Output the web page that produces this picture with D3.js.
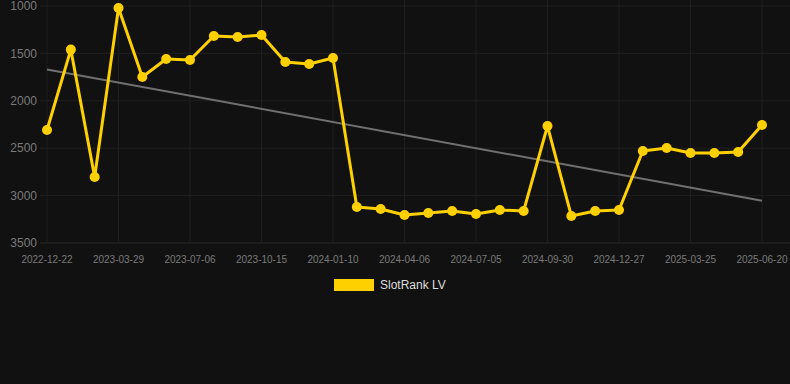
<!DOCTYPE html>
<html>
<head>
<meta charset="utf-8">
<script src="https://cdn.jsdelivr.net/npm/d3@7"></script>
<style>
  html, body { margin: 0; padding: 0; background: #111111; }
  #chart { width: 790px; height: 384px; }
  text { font-family: "Liberation Sans", Arial, sans-serif; }
</style>
</head>
<body>
<div id="chart"></div>
<script>
//dates for each point, only every 3rd one is labelled on the axis
const dates = [
  "2022-12-22", "2023-01-24", "2023-02-25", "2023-03-29", "2023-05-01", "2023-06-03",
  "2023-07-06", "2023-08-10", "2023-09-12", "2023-10-15", "2023-11-13", "2023-12-12",
  "2024-01-10", "2024-02-08", "2024-03-08", "2024-04-06", "2024-05-06", "2024-06-05",
  "2024-07-05", "2024-08-03", "2024-09-01", "2024-09-30", "2024-10-29", "2024-11-28",
  "2024-12-27", "2025-01-25", "2025-02-23", "2025-03-25", "2025-04-23", "2025-05-22",
  "2025-06-20"
]

//rank values, lower is better so axis is inverted
const ranks = [
  2308, 1460, 2804, 1021, 1749, 1559, 1570, 1316, 1327, 1306, 1591, 1612,
  1549, 3120, 3141, 3205, 3184, 3162, 3194, 3152, 3162, 2266, 3215, 3162,
  3152, 2530, 2498, 2551, 2551, 2540, 2255
]

const yTicks = [1000, 1500, 2000, 2500, 3000, 3500]
const xTickLabels = dates.filter((d, i) => i % 3 === 0)
const seriesName = "SlotRank LV"

const dims = { width: 790, height: 384, left: 40, right: 0, top: 6, bottom: 141 }

const svg = d3.select('#chart')
  .append("svg")
    .attr("width", dims.width)
    .attr("height", dims.height)

svg.append("rect")
  .attr("width", dims.width)
  .attr("height", dims.height)
  .attr("fill", "#111111")

const x = d3.scalePoint()
  .domain(dates)
  .range([47, 762])

const y = d3.scaleLinear()
  .domain([1000, 3500])
  .range([dims.top, dims.height - dims.bottom])

//grid
svg.append("g")
  .selectAll("line")
  .data(yTicks)
  .join("line")
    .attr("x1", dims.left)
    .attr("x2", dims.width)
    .attr("y1", d => y(d))
    .attr("y2", d => y(d))
    .attr("stroke", d => d === 3500 ? "#2a2a2a" : "#1f1f1f")
    .attr("stroke-width", 1)

svg.append("g")
  .selectAll("line")
  .data(xTickLabels)
  .join("line")
    .attr("x1", d => x(d))
    .attr("x2", d => x(d))
    .attr("y1", 0)
    .attr("y2", y(3500))
    .attr("stroke", "#1f1f1f")
    .attr("stroke-width", 1)

//y axis labels
svg.append("g")
  .selectAll("text")
  .data(yTicks)
  .join("text")
    .attr("x", 37)
    .attr("y", d => y(d))
    .attr("dy", "0.35em")
    .attr("text-anchor", "end")
    .attr("fill", "#7a7a7a")
    .style("font-size", "12px")
    .text(d => d)

//x axis labels
svg.append("g")
  .selectAll("text")
  .data(xTickLabels)
  .join("text")
    .attr("x", d => x(d))
    .attr("y", y(3500) + 20)
    .attr("text-anchor", "middle")
    .attr("fill", "#7a7a7a")
    .style("font-size", "10px")
    .text(d => d)

//trend line, least squares fit on index
const n = ranks.length
const idx = d3.range(n)
const mx = d3.mean(idx)
const my = d3.mean(ranks)
const slope = d3.sum(idx, i => (i - mx) * (ranks[i] - my)) / d3.sum(idx, i => (i - mx) * (i - mx))
const icpt = my - slope * mx

svg.append("line")
  .attr("x1", x(dates[0]))
  .attr("x2", x(dates[n - 1]))
  .attr("y1", y(icpt))
  .attr("y2", y(icpt + slope * (n - 1)))
  .attr("stroke", "#707070")
  .attr("stroke-width", 2)

//series line and points
svg.append("path")
  .datum(ranks)
  .attr("fill", "none")
  .attr("stroke", "#FFD000")
  .attr("stroke-width", 3)
  .attr("stroke-linejoin", "round")
  .attr("d", d3.line()
    .x((d, i) => x(dates[i]))
    .y(d => y(d)))

svg.append("g")
  .selectAll("circle")
  .data(ranks)
  .join("circle")
    .attr("cx", (d, i) => x(dates[i]))
    .attr("cy", d => y(d))
    .attr("r", 5)
    .attr("fill", "#FFD000")

//legend
const legend = svg.append("g")
  .attr("transform", "translate(334,279)")

legend.append("rect")
  .attr("width", 40)
  .attr("height", 12)
  .attr("fill", "#FFD000")

legend.append("text")
  .attr("x", 46)
  .attr("y", 6)
  .attr("dy", "0.35em")
  .attr("fill", "#dddddd")
  .style("font-size", "12px")
  .text(seriesName)
</script>
</body>
</html>
